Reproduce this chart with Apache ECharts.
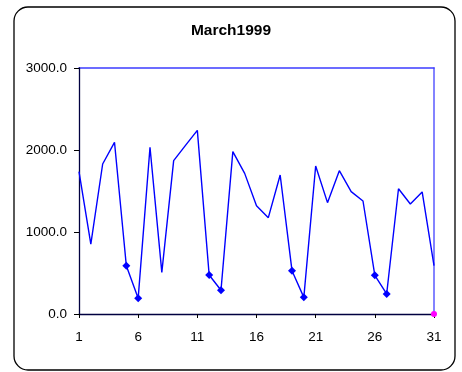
<!DOCTYPE html>
<html>
<head>
<meta charset="utf-8">
<script src="https://cdn.jsdelivr.net/npm/echarts@6/dist/echarts.min.js"></script>
<style>
  html, body { margin: 0; padding: 0; background: #ffffff; }
  #chart { width: 462px; height: 372px; }
</style>
</head>
<body>
<div id="chart"></div>
<script>
// Daily values for March 1999
const days = ['1','2','3','4','5','6','7','8','9','10','11','12','13','14','15','16',
              '17','18','19','20','21','22','23','24','25','26','27','28','29','30','31'];
const dailyValues = [1735, 853, 1829, 2094, 589, 191, 2033, 508, 1870, 2057, 2240,
                     476, 289, 1980, 1715, 1321, 1175, 1695, 528, 203, 1805, 1358,
                     1748, 1492, 1378, 472, 244, 1528, 1341, 1488, 589];
// Days drawn with a marker (weekends)
const markedDays = ['5','6','12','13','19','20','26','27'];
// Secondary point at the end of the month
const endDay = '31';
const endValue = 0;
const yTicks = [0, 1000, 2000, 3000];

const chart = echarts.init(document.getElementById('chart'), null, { renderer: 'canvas' });

const mainData = dailyValues.map((v, i) => {
  const marked = markedDays.indexOf(days[i]) >= 0;
  return {
    value: v,
    symbol: marked ? 'diamond' : 'none',
    symbolSize: marked ? 8 : 0
  };
});
const endData = days.map(d => (d === endDay ? endValue : null));

const labelFont = {
  fontFamily: 'Liberation Sans, Arial, sans-serif',
  fontSize: 13.5,
  color: '#000000'
};

chart.setOption({
  animation: false,
  backgroundColor: '#ffffff',
  title: {
    text: 'March1999',
    left: 'center',
    top: 23,
    padding: 0,
    textStyle: {
      fontFamily: 'Liberation Sans, Arial, sans-serif',
      fontSize: 15.5,
      fontWeight: 'bold',
      color: '#000000'
    }
  },
  graphic: [{
    type: 'rect',
    silent: true,
    z: -1,
    shape: { x: 14, y: 7, width: 441, height: 363, r: 14 },
    style: { fill: 'none', stroke: '#000000', lineWidth: 1.3 }
  }],
  grid: { left: 79, right: 28, top: 68, bottom: 58 },
  xAxis: [
    {
      type: 'category',
      data: days,
      boundaryGap: false,
      axisLine: { show: true, onZero: false, lineStyle: { color: '#000040', width: 1.3 } },
      axisTick: { show: true, interval: 4, length: 4, lineStyle: { color: '#000000' } },
      axisLabel: Object.assign({ interval: 4, margin: 16 }, labelFont),
      splitLine: { show: false },
      z: 2
    },
    {
      // top edge of the plot frame
      type: 'category',
      data: days,
      position: 'top',
      boundaryGap: false,
      axisLine: { show: true, onZero: false, lineStyle: { color: '#3c3cff', width: 1.6 } },
      axisTick: { show: false },
      axisLabel: { show: false },
      splitLine: { show: false }
    }
  ],
  yAxis: [
    {
      type: 'value',
      min: yTicks[0],
      max: yTicks[yTicks.length - 1],
      interval: 1000,
      axisLine: { show: true, onZero: false, lineStyle: { color: '#000040', width: 1.3 } },
      axisTick: { show: true, length: 5, lineStyle: { color: '#000000' } },
      axisLabel: Object.assign({ margin: 12, formatter: v => v.toFixed(1) }, labelFont),
      splitLine: { show: false },
      z: 2
    },
    {
      // right edge of the plot frame
      type: 'value',
      position: 'right',
      min: yTicks[0],
      max: yTicks[yTicks.length - 1],
      interval: 1000,
      axisLine: { show: true, onZero: false, lineStyle: { color: '#5a5aff', width: 1.5 } },
      axisTick: { show: false },
      axisLabel: { show: false },
      splitLine: { show: false }
    }
  ],
  series: [
    {
      name: 'Daily',
      type: 'line',
      data: mainData,
      showAllSymbol: true,
      lineStyle: { color: '#0000ff', width: 1.4 },
      itemStyle: { color: '#0000ff' },
      z: 3
    },
    {
      name: 'End',
      type: 'line',
      data: endData,
      symbol: 'circle',
      symbolSize: 6,
      showAllSymbol: true,
      lineStyle: { color: '#ff00ff', width: 1 },
      itemStyle: { color: '#ff00ff' },
      z: 4
    }
  ]
});
</script>
</body>
</html>
